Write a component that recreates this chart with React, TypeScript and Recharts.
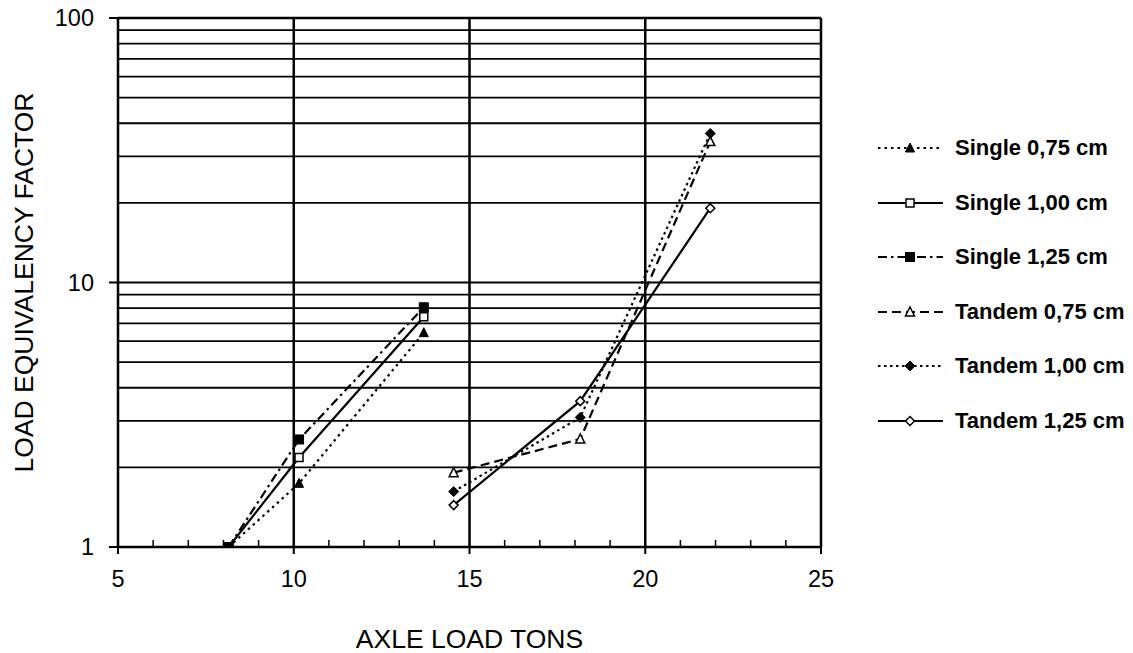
import React from 'react';
import { LineChart, Line, XAxis, YAxis, CartesianGrid, ReferenceLine, Legend, Label } from 'recharts';

// ---- data ----
const singleLoads = [8.15, 10.15, 13.7];
const single075 = [1, 1.74, 6.46];
const single100 = [1, 2.18, 7.42];
const single125 = [1, 2.55, 8.06];

const tandemLoads = [14.55, 18.15, 21.85];
const tandem075 = [1.91, 2.56, 34.1];
const tandem100 = [1.62, 3.09, 36.6];
const tandem125 = [1.44, 3.56, 19.1];

const seriesNames = [
  'Single 0,75 cm',
  'Single 1,00 cm',
  'Single 1,25 cm',
  'Tandem 0,75 cm',
  'Tandem 1,00 cm',
  'Tandem 1,25 cm',
];

const xTicks = [5, 6, 7, 8, 9, 10, 11, 12, 13, 14, 15, 16, 17, 18, 19, 20, 21, 22, 23, 24, 25];
const xMajorTicks = [5, 10, 15, 20, 25];
const xGridLines = [10, 15, 20, 25];
const yTicks = [1, 2, 3, 4, 5, 6, 7, 8, 9, 10, 20, 30, 40, 50, 60, 70, 80, 90, 100];
const yMajorTicks = [1, 10, 100];

const xAxisTitle = 'AXLE LOAD TONS';
const yAxisTitle = 'LOAD EQUIVALENCY FACTOR';

const FONT = '"Liberation Sans", Arial, Helvetica, sans-serif';

const toPoints = (xs: number[], ys: number[]) => xs.map((x, i) => ({ x, y: ys[i] }));

type Shape = 'triFilled' | 'sqOpen' | 'sqFilled' | 'triOpen' | 'diaFilled' | 'diaOpen';

const series: { name: string; data: { x: number; y: number }[]; dash?: string; shape: Shape }[] = [
  { name: seriesNames[0], data: toPoints(singleLoads, single075), dash: '2.5 4', shape: 'triFilled' },
  { name: seriesNames[1], data: toPoints(singleLoads, single100), dash: undefined, shape: 'sqOpen' },
  { name: seriesNames[2], data: toPoints(singleLoads, single125), dash: '9 4 2.5 4', shape: 'sqFilled' },
  { name: seriesNames[3], data: toPoints(tandemLoads, tandem075), dash: '9 5', shape: 'triOpen' },
  { name: seriesNames[4], data: toPoints(tandemLoads, tandem100), dash: '2.5 3.5', shape: 'diaFilled' },
  { name: seriesNames[5], data: toPoints(tandemLoads, tandem125), dash: undefined, shape: 'diaOpen' },
];

function Marker({ cx, cy, shape }: { cx: number; cy: number; shape: Shape }) {
  if (cx == null || cy == null || isNaN(cx) || isNaN(cy)) return null;
  const sw = 1.5;
  switch (shape) {
    case 'triFilled':
      return <polygon points={`${cx},${cy - 5} ${cx - 4.5},${cy + 4} ${cx + 4.5},${cy + 4}`} fill="#000" stroke="#000" strokeWidth={1} />;
    case 'triOpen':
      return <polygon points={`${cx},${cy - 5} ${cx - 4.5},${cy + 4} ${cx + 4.5},${cy + 4}`} fill="#fff" stroke="#000" strokeWidth={sw} />;
    case 'sqOpen':
      return <rect x={cx - 4} y={cy - 4} width={8} height={8} fill="#fff" stroke="#000" strokeWidth={sw} />;
    case 'sqFilled':
      return <rect x={cx - 4.5} y={cy - 4.5} width={9} height={9} fill="#000" stroke="#000" strokeWidth={1} />;
    case 'diaFilled':
      return <polygon points={`${cx},${cy - 5} ${cx + 5},${cy} ${cx},${cy + 5} ${cx - 5},${cy}`} fill="#000" stroke="#000" strokeWidth={1} />;
    case 'diaOpen':
      return <polygon points={`${cx},${cy - 4.5} ${cx + 4.5},${cy} ${cx},${cy + 4.5} ${cx - 4.5},${cy}`} fill="#fff" stroke="#000" strokeWidth={sw} />;
  }
  return null;
}

function XTick(props: any) {
  const { x, y, payload } = props;
  const v = payload.value;
  const major = xMajorTicks.includes(v);
  return (
    <g>
      {major ? (
        <line x1={x} y1={y - 2} x2={x} y2={y + 7} stroke="#000" strokeWidth={2} />
      ) : (
        <line x1={x} y1={y} x2={x} y2={y - 7} stroke="#000" strokeWidth={1.5} />
      )}
      {major && (
        <text x={x} y={y + 32} textAnchor="middle" dy="0.36em" fontSize={23.5} fontFamily={FONT} fill="#000">
          {v}
        </text>
      )}
    </g>
  );
}

function YTick(props: any) {
  const { x, y, payload } = props;
  const v = payload.value;
  const major = yMajorTicks.includes(v);
  if (!major) return <g />;
  return (
    <g>
      <line x1={x - 9} y1={y} x2={x} y2={y} stroke="#000" strokeWidth={2} />
      <text x={x - 24} y={y} textAnchor="end" dy="0.36em" fontSize={23.5} fontFamily={FONT} fill="#000">
        {v}
      </text>
    </g>
  );
}

function LegendContent() {
  return (
    <div style={{ fontFamily: FONT }}>
      {series.map((s) => (
        <div key={s.name} style={{ display: 'flex', alignItems: 'center', height: 54.5 }}>
          <svg width={72} height={20} style={{ display: 'block' }}>
            <line x1={3} y1={10} x2={68} y2={10} stroke="#000" strokeWidth={2.2} strokeDasharray={s.dash} />
            <Marker cx={35} cy={10} shape={s.shape} />
          </svg>
          <span style={{ marginLeft: 8, fontSize: 22, fontWeight: 'bold', color: '#000', whiteSpace: 'nowrap' }}>{s.name}</span>
        </div>
      ))}
    </div>
  );
}

export default function App() {
  return (
    <div style={{ position: 'absolute', left: 0, top: 0, width: 1133, height: 653, background: '#fff' }}>
      <LineChart width={1133} height={653} margin={{ top: 18, right: 312, bottom: 0, left: 0 }}>
        <CartesianGrid vertical={false} stroke="#000" strokeWidth={1.8} strokeOpacity={1} />
        <XAxis
          type="number"
          dataKey="x"
          domain={[5, 25]}
          ticks={xTicks}
          interval={0}
          allowDataOverflow
          height={106}
          tickSize={0}
          tickMargin={0}
          tickLine={false}
          axisLine={{ stroke: '#000', strokeWidth: 2.5 }}
          tick={<XTick />}
        >
          <Label value={xAxisTitle} position="insideBottom" offset={5} fontSize={26.5} fontFamily={FONT} fill="#000" />
        </XAxis>
        <YAxis
          type="number"
          dataKey="y"
          scale="log"
          domain={[1, 100]}
          ticks={yTicks}
          interval={0}
          allowDataOverflow
          width={118}
          tickSize={0}
          tickMargin={0}
          tickLine={false}
          axisLine={{ stroke: '#000', strokeWidth: 2.5 }}
          tick={<YTick />}
        >
          <Label
            value={yAxisTitle}
            angle={-90}
            position="insideLeft"
            offset={24}
            fontSize={26.5}
            fontFamily={FONT}
            fill="#000"
            style={{ textAnchor: 'middle' }}
          />
        </YAxis>
        {xGridLines.map((v) => (
          <ReferenceLine key={v} x={v} stroke="#000" strokeWidth={2.5} ifOverflow="extendDomain" />
        ))}
        <ReferenceLine y={100} stroke="#000" strokeWidth={2.5} />
        <Legend
          layout="vertical"
          align="center"
          verticalAlign="middle"
          content={<LegendContent />}
          wrapperStyle={{ position: 'absolute', left: 875, top: 121, width: 258 }}
        />
        {series.map((s) => (
          <Line
            key={s.name}
            name={s.name}
            data={s.data}
            dataKey="y"
            type="linear"
            stroke="#000"
            strokeWidth={2.2}
            strokeDasharray={s.dash}
            isAnimationActive={false}
            dot={(p: any) => <Marker key={`${s.name}-${p.index}`} cx={p.cx} cy={p.cy} shape={s.shape} />}
            activeDot={false}
          />
        ))}
      </LineChart>
    </div>
  );
}
